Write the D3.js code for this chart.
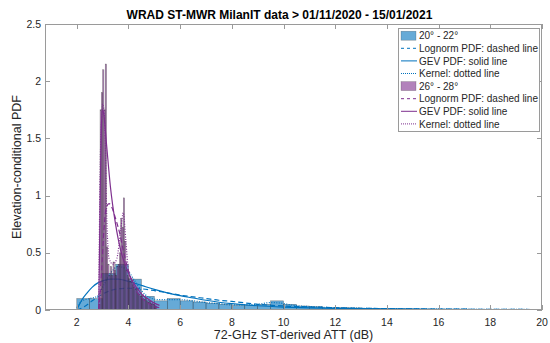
<!DOCTYPE html>
<html>
<head>
<meta charset="utf-8">
<script src="https://cdn.jsdelivr.net/npm/d3@7"></script>
<style>
  body { margin: 0; background: #fff; }
  svg { display: block; font-family: "Liberation Sans", Arial, Helvetica, sans-serif; }
</style>
</head>
<body>
<svg id="chart" width="550" height="343"></svg>
<script>
// ---- Data: 20°-22° elevation bin (histogram, bin width 0.5 dB) ----
const lowBinStart = [2.0, 2.5, 3.0, 3.5, 4.0, 4.5, 5.0, 5.5, 6.0, 6.5, 7.0, 7.5, 8.0, 8.5, 9.0, 9.5,
  10.0, 10.5, 11.0, 11.5, 12.0, 12.5, 13.0, 13.5, 14.0, 14.5, 15.0, 15.5, 16.0, 16.5, 17.0, 17.5,
  18.0, 18.5, 19.0, 19.5];
const lowBinValue = [0.10, 0.10, 0.32, 0.40, 0.27, 0.12, 0.08, 0.10, 0.08, 0.07, 0.06, 0.05, 0.04, 0.04, 0.05, 0.08,
  0.05, 0.035, 0.03, 0.02, 0.02, 0.018, 0.015, 0.012, 0.01, 0.01, 0.008, 0.008, 0.007, 0.007, 0.006, 0.006,
  0.005, 0.005, 0.005, 0.004];
const lowBinWidth = 0.5;

// Fitted curves, 20°-22°
const lowLognormX = [2.0, 2.3, 2.6, 3.0, 3.3, 3.6, 4.0, 4.5, 5.0, 5.5, 6.0, 6.5, 7.0, 7.5, 8.0, 9.0, 10.0, 11.0, 12.0, 14.0, 16.0, 18.0, 20.0];
const lowLognormY = [0.0, 0.03, 0.08, 0.14, 0.17, 0.185, 0.19, 0.185, 0.17, 0.15, 0.13, 0.115, 0.10, 0.085, 0.075, 0.05, 0.035, 0.027, 0.02, 0.012, 0.008, 0.006, 0.004];
const lowGevX = [2.0, 2.2, 2.4, 2.6, 2.8, 3.0, 3.3, 3.6, 4.0, 4.5, 5.0, 5.5, 6.0, 6.5, 7.0, 7.5, 8.0, 9.0, 10.0, 11.0, 12.0, 14.0, 16.0, 18.0, 20.0];
const lowGevY = [0.0, 0.09, 0.15, 0.2, 0.235, 0.255, 0.27, 0.27, 0.25, 0.215, 0.18, 0.15, 0.125, 0.105, 0.085, 0.068, 0.055, 0.037, 0.026, 0.019, 0.014, 0.009, 0.006, 0.004, 0.003];
const lowKernelX = [2.0, 2.2, 2.5, 2.8, 3.0, 3.3, 3.6, 3.9, 4.2, 4.5, 4.8, 5.2, 5.6, 6.0, 6.5, 7.0, 7.5, 8.0, 8.5, 9.0, 9.5, 9.9, 10.4, 11.0, 12.0, 13.0, 14.0, 15.0, 16.0, 17.0, 18.0, 19.0, 20.0];
const lowKernelY = [0.02, 0.08, 0.10, 0.12, 0.20, 0.32, 0.38, 0.36, 0.27, 0.17, 0.11, 0.09, 0.09, 0.09, 0.08, 0.065, 0.055, 0.045, 0.045, 0.05, 0.065, 0.06, 0.04, 0.03, 0.02, 0.015, 0.012, 0.01, 0.008, 0.007, 0.006, 0.005, 0.004];

// ---- Data: 26°-28° elevation bin (histogram, bin width 0.05 dB) ----
const highBinStart = [2.85, 2.90, 2.95, 3.00, 3.05, 3.10, 3.15, 3.20, 3.25, 3.30, 3.35, 3.40, 3.45, 3.50, 3.55, 3.60,
  3.65, 3.70, 3.75, 3.80, 3.85, 3.90, 3.95, 4.00, 4.05, 4.10, 4.15, 4.20, 4.25, 4.30, 4.35, 4.40,
  4.45, 4.50, 4.55, 4.60, 4.65, 4.70, 4.75, 4.80, 4.85, 4.90, 4.95, 5.00, 5.05];
const highBinValue = [0.05, 1.75, 1.90, 2.10, 1.75, 2.15, 0.55, 0.40, 0.30, 0.38, 0.30, 0.42, 0.35, 0.30, 0.38, 0.40,
  0.50, 0.80, 0.72, 0.98, 0.60, 0.35, 0.30, 0.28, 0.25, 0.26, 0.22, 0.20, 0.18, 0.19, 0.15, 0.14,
  0.12, 0.13, 0.10, 0.09, 0.10, 0.08, 0.07, 0.08, 0.06, 0.05, 0.05, 0.04, 0.03];
const highBinWidth = 0.05;

// Fitted curves, 26°-28°
const highLognormX = [2.85, 2.95, 3.05, 3.15, 3.25, 3.35, 3.5, 3.65, 3.8, 3.95, 4.1, 4.3, 4.5, 4.75, 5.0, 5.2];
const highLognormY = [0.0, 0.3, 0.7, 0.9, 0.93, 0.9, 0.8, 0.68, 0.52, 0.38, 0.27, 0.17, 0.11, 0.06, 0.03, 0.02];
const highGevX = [2.85, 2.9, 2.95, 3.0, 3.05, 3.15, 3.3, 3.5, 3.7, 3.9, 4.1, 4.3, 4.5, 4.8, 5.0, 5.2];
const highGevY = [0.0, 0.9, 1.6, 1.75, 1.7, 1.45, 1.08, 0.75, 0.52, 0.38, 0.27, 0.2, 0.14, 0.09, 0.06, 0.04];
const highKernelX = [2.85, 2.9, 2.95, 3.0, 3.05, 3.1, 3.15, 3.25, 3.4, 3.55, 3.7, 3.8, 3.9, 4.0, 4.2, 4.5, 4.8, 5.1];
const highKernelY = [0.0, 1.2, 1.6, 1.8, 1.75, 1.5, 0.9, 0.45, 0.4, 0.45, 0.7, 0.85, 0.6, 0.35, 0.25, 0.15, 0.08, 0.03];

// ---- Axis ticks and text ----
const xTicks = [2, 4, 6, 8, 10, 12, 14, 16, 18, 20];
const yTicks = [0, 0.5, 1, 1.5, 2, 2.5];
const titleText = "WRAD ST-MWR MilanIT data > 01/11/2020 - 15/01/2021";
const xLabel = "72-GHz ST-derived ATT (dB)";
const yLabel = "Elevation-conditional PDF";
const legendLabels = ["20° - 22°", "Lognorm PDF: dashed line", "GEV PDF: solid line", "Kernel: dotted line",
  "26° - 28°", "Lognorm PDF: dashed line", "GEV PDF: solid line", "Kernel: dotted line"];

// ---- Layout ----
const plot = { left: 45, right: 542, top: 24, bottom: 310 };
const blue = "#0072BD", purple = "#7E2F8E";
const axisColor = "#9a9a9a", textColor = "#262626";

const svg = d3.select("#chart");
const x = d3.scaleLinear().domain([0.77, 20]).range([plot.left, plot.right]);
const y = d3.scaleLinear().domain([0, 2.5]).range([plot.bottom, plot.top]);

svg.append("defs").append("clipPath").attr("id", "plotClip")
  .append("rect").attr("x", plot.left).attr("y", plot.top)
  .attr("width", plot.right - plot.left).attr("height", plot.bottom - plot.top);

const g = svg.append("g").attr("clip-path", "url(#plotClip)");

function drawHist(starts, values, width, color) {
  g.append("g").selectAll("rect")
    .data(starts.map((s, i) => ({ s, v: values[i] })))
    .join("rect")
    .attr("x", d => x(d.s))
    .attr("y", d => y(d.v))
    .attr("width", d => x(d.s + width) - x(d.s))
    .attr("height", d => y(0) - y(d.v))
    .attr("fill", color)
    .attr("fill-opacity", 0.6)
    .attr("stroke", "#262626")
    .attr("stroke-opacity", 0.55)
    .attr("stroke-width", 0.5);
}

const line = d3.line().x(d => x(d[0])).y(d => y(d[1])).curve(d3.curveMonotoneX);
function drawCurve(xs, ys, color, dash, w) {
  g.append("path")
    .datum(xs.map((v, i) => [v, ys[i]]))
    .attr("d", line)
    .attr("fill", "none")
    .attr("stroke", color)
    .attr("stroke-width", w)
    .attr("stroke-dasharray", dash);
}

drawHist(lowBinStart, lowBinValue, lowBinWidth, blue);
drawCurve(lowLognormX, lowLognormY, blue, "5,3", 1.2);
drawCurve(lowGevX, lowGevY, blue, null, 1.2);
drawCurve(lowKernelX, lowKernelY, blue, "1,1.5", 1.2);

drawHist(highBinStart, highBinValue, highBinWidth, purple);
drawCurve(highLognormX, highLognormY, purple, "5,3", 1.2);
drawCurve(highGevX, highGevY, purple, null, 1.2);
drawCurve(highKernelX, highKernelY, purple, "1,1.5", 1.2);

// ---- Axes box with inward ticks on all sides ----
const axes = svg.append("g");
axes.append("rect")
  .attr("x", plot.left + 0.5).attr("y", plot.top + 0.5)
  .attr("width", plot.right - plot.left - 1).attr("height", plot.bottom - plot.top - 1)
  .attr("fill", "none").attr("stroke", axisColor).attr("stroke-width", 1);

const tickLen = 5;
xTicks.forEach(t => {
  const px = Math.round(x(t)) + 0.5;
  axes.append("line").attr("x1", px).attr("x2", px).attr("y1", plot.bottom).attr("y2", plot.bottom - tickLen)
    .attr("stroke", axisColor);
  axes.append("line").attr("x1", px).attr("x2", px).attr("y1", plot.top).attr("y2", plot.top + tickLen)
    .attr("stroke", axisColor);
  axes.append("text").attr("x", x(t)).attr("y", plot.bottom + 15.5)
    .attr("text-anchor", "middle").attr("font-size", 10.5).attr("fill", textColor)
    .text(d3.format("~g")(t));
});
yTicks.forEach(t => {
  const py = Math.round(y(t)) + 0.5;
  axes.append("line").attr("x1", plot.left).attr("x2", plot.left + tickLen).attr("y1", py).attr("y2", py)
    .attr("stroke", axisColor);
  axes.append("line").attr("x1", plot.right).attr("x2", plot.right - tickLen).attr("y1", py).attr("y2", py)
    .attr("stroke", axisColor);
  axes.append("text").attr("x", plot.left - 4).attr("y", y(t) + 3.5)
    .attr("text-anchor", "end").attr("font-size", 10.5).attr("fill", textColor)
    .text(d3.format("~g")(t));
});

// ---- Titles ----
svg.append("text").attr("x", (plot.left + plot.right) / 2 - 14).attr("y", 18.5)
  .attr("text-anchor", "middle").attr("font-size", 12).attr("font-weight", "bold").attr("fill", "#000")
  .text(titleText);
svg.append("text").attr("x", (plot.left + plot.right) / 2).attr("y", 339)
  .attr("text-anchor", "middle").attr("font-size", 12.5).attr("fill", textColor)
  .text(xLabel);
svg.append("text").attr("transform", `translate(21,${(plot.top + plot.bottom) / 2}) rotate(-90)`)
  .attr("text-anchor", "middle").attr("font-size", 12.5).attr("fill", textColor)
  .text(yLabel);

// ---- Legend ----
const leg = svg.append("g");
const legX = 398, legY = 28, legW = 141, legH = 103, rowH = 12.6, firstRow = 35.7;
leg.append("rect").attr("x", legX + 0.5).attr("y", legY + 0.5).attr("width", legW).attr("height", legH)
  .attr("fill", "#fff").attr("stroke", axisColor);
const legendKinds = [
  { type: "box", color: blue }, { type: "line", color: blue, dash: "3,3" },
  { type: "line", color: blue, dash: null }, { type: "line", color: blue, dash: "1,1" },
  { type: "box", color: purple }, { type: "line", color: purple, dash: "3,3" },
  { type: "line", color: purple, dash: null }, { type: "line", color: purple, dash: "1,1" }
];
legendLabels.forEach((lab, i) => {
  const cy = firstRow + i * rowH;
  const k = legendKinds[i];
  if (k.type === "box") {
    leg.append("rect").attr("x", 401).attr("y", cy - 4.5).attr("width", 15).attr("height", 9)
      .attr("fill", k.color).attr("fill-opacity", 0.6).attr("stroke", "#262626").attr("stroke-opacity", 0.4)
      .attr("stroke-width", 0.5);
  } else {
    leg.append("line").attr("x1", 401).attr("x2", 417).attr("y1", cy).attr("y2", cy)
      .attr("stroke", k.color).attr("stroke-width", 1).attr("stroke-dasharray", k.dash);
  }
  leg.append("text").attr("x", 419).attr("y", cy + 3.6).attr("font-size", 10).attr("fill", textColor)
    .text(lab);
});
</script>
</body>
</html>
